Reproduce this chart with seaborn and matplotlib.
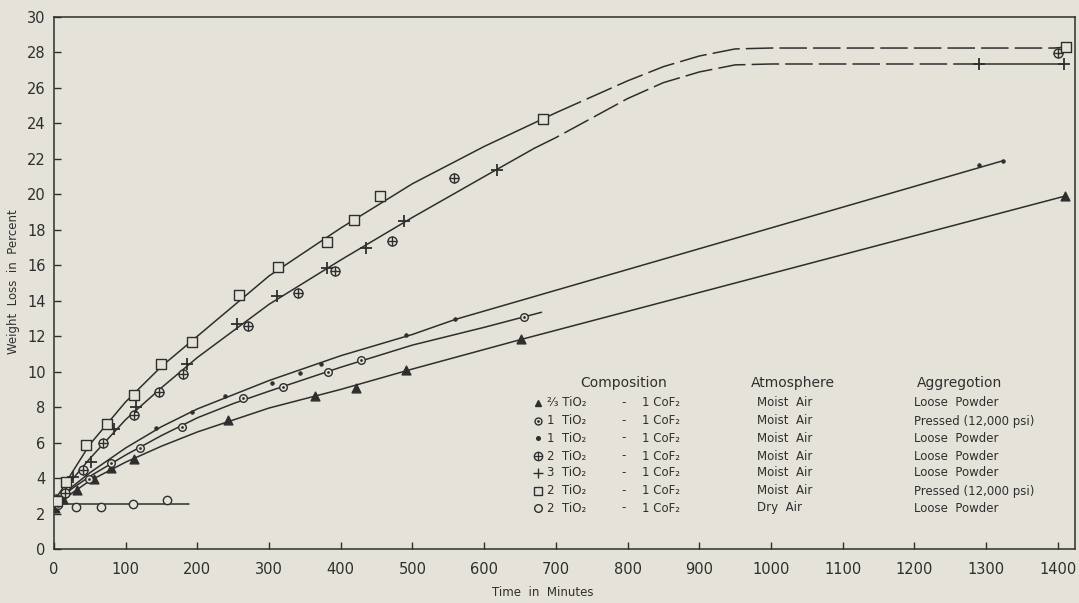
import matplotlib
matplotlib.use("Agg")
import matplotlib.pyplot as plt
import pandas as pd
import seaborn as sns

# ---------------- data ----------------
# measured points
tri_x = [2, 12, 32, 56, 79, 112, 242, 364, 421, 491, 651, 1410]
tri_y = [2.3, 2.8, 3.35, 3.95, 4.55, 5.1, 7.3, 8.65, 9.1, 10.1, 11.85, 19.9]

cdot_x = [5, 49, 80, 120, 178, 264, 320, 382, 428, 656]
cdot_y = [2.5, 3.95, 4.87, 5.68, 6.9, 8.5, 9.12, 10.0, 10.63, 13.1]

dot_x = [5, 142, 193, 238, 304, 343, 373, 491, 559, 1290, 1324]
dot_y = [2.5, 6.81, 7.75, 8.6, 9.35, 9.92, 10.44, 12.06, 12.96, 21.63, 21.9]

cplus_x = [3, 15, 41, 68, 112, 146, 180, 270, 341, 392, 471, 558, 1400]
cplus_y = [2.8, 3.14, 4.46, 5.96, 7.56, 8.88, 9.88, 12.58, 14.43, 15.65, 17.36, 20.9, 27.97]

plus_x = [27, 52, 84, 115, 185, 255, 311, 381, 435, 488, 618, 1290, 1408]
plus_y = [4.08, 4.93, 6.75, 8.0, 10.42, 12.7, 14.24, 15.84, 17.0, 18.5, 21.4, 27.37, 27.37]

sq_x = [4, 17, 45, 74, 111, 149, 193, 258, 312, 381, 418, 454, 682, 1411]
sq_y = [2.7, 3.76, 5.87, 7.05, 8.69, 10.44, 11.7, 14.3, 15.9, 17.3, 18.57, 19.9, 24.27, 28.3]

dry_x = [30, 66, 110, 157]
dry_y = [2.35, 2.35, 2.55, 2.75]

# drawn (faired) curves
sq_solid_x = [0, 10, 25, 50, 100, 150, 200, 300, 400, 500, 600, 700]
sq_solid_y = [2.7, 3.3, 4.3, 5.9, 8.3, 10.3, 12.0, 15.4, 18.1, 20.6, 22.7, 24.6]
sq_dash_x = [700, 750, 800, 850, 900, 950, 1000, 1100, 1200, 1300, 1395]
sq_dash_y = [24.6, 25.5, 26.4, 27.2, 27.8, 28.2, 28.25, 28.25, 28.25, 28.25, 28.25]
sq_end_x = [1395, 1411]
sq_end_y = [28.25, 28.3]

pl_solid_x = [0, 10, 25, 50, 100, 150, 200, 300, 400, 500, 600, 670]
pl_solid_y = [2.4, 3.0, 3.9, 5.1, 7.3, 9.1, 10.8, 13.8, 16.3, 18.7, 21.0, 22.6]
pl_dash_x = [670, 700, 750, 800, 850, 900, 950, 1000, 1290]
pl_dash_y = [22.6, 23.2, 24.3, 25.4, 26.3, 26.9, 27.3, 27.35, 27.35]
pl_end_x = [1290, 1408]
pl_end_y = [27.35, 27.35]

dot_cx = [0, 10, 25, 50, 100, 150, 200, 300, 400, 500, 560, 1324]
dot_cy = [2.4, 2.9, 3.5, 4.3, 5.7, 6.9, 7.9, 9.5, 10.9, 12.1, 12.95, 21.9]

cdot_cx = [0, 10, 25, 50, 100, 150, 200, 250, 300, 400, 500, 600, 680]
cdot_cy = [2.4, 2.9, 3.4, 4.1, 5.3, 6.4, 7.4, 8.2, 8.9, 10.25, 11.5, 12.5, 13.35]

tri_cx = [0, 10, 25, 50, 100, 150, 200, 300, 400, 500, 650, 1410]
tri_cy = [2.2, 2.6, 3.15, 3.85, 4.9, 5.8, 6.6, 7.95, 9.0, 10.15, 11.8, 19.9]

dry_cx = [0, 188]
dry_cy = [2.55, 2.55]

x_ticks = list(range(0, 1401, 100))
y_ticks = list(range(0, 31, 2))

legend_comp = ["²⁄₃ TiO₂", "1  TiO₂", "1  TiO₂", "2  TiO₂", "3  TiO₂", "2  TiO₂", "2  TiO₂"]
legend_atm = ["Moist  Air"] * 6 + ["Dry  Air"]
legend_agg = ["Loose  Powder", "Pressed (12,000 psi)", "Loose  Powder", "Loose  Powder",
              "Loose  Powder", "Pressed (12,000 psi)", "Loose  Powder"]

# ---------------- style ----------------
BG = "#e5e3d9"
INK = "#2e2e2e"
sns.set_theme(style="ticks")
plt.rcParams['font.family'] = ['DejaVu Sans']
plt.rcParams['text.color'] = INK

fig = plt.figure(figsize=(10.79, 6.03), dpi=100, facecolor=BG)
ax = fig.add_axes([54 / 1079, 1 - 549 / 603, (1075 - 54) / 1079, (549 - 17) / 603])
ax.set_facecolor(BG)

def curve(xs, ys, dashed=False):
    d = pd.DataFrame({"x": xs, "y": ys})
    l = sns.lineplot(data=d, x="x", y="y", ax=ax, color=INK, lw=1.1, sort=False,
                     estimator=None, zorder=2)
    if dashed:
        l.lines[-1].set_dashes([18, 4])

curve(sq_solid_x, sq_solid_y)
curve(sq_dash_x, sq_dash_y, dashed=True)
curve(sq_end_x, sq_end_y)
curve(pl_solid_x, pl_solid_y)
curve(pl_dash_x, pl_dash_y, dashed=True)
curve(pl_end_x, pl_end_y)
curve(dot_cx, dot_cy)
curve(cdot_cx, cdot_cy)
curve(tri_cx, tri_cy)
curve(dry_cx, dry_cy)

def pts(xs, ys, marker, s, fc, ec=INK, lw=1.0):
    d = pd.DataFrame({"x": xs, "y": ys})
    sns.scatterplot(data=d, x="x", y="y", ax=ax, marker=marker, s=s, facecolor=fc,
                    edgecolor=ec, linewidth=lw, zorder=3)

pts(tri_x, tri_y, "^", 40, INK)
pts(cdot_x, cdot_y, "o", 30, BG)
pts(cdot_x, cdot_y, ".", 8, INK, lw=0.5)
pts(dot_x, dot_y, "o", 7, INK, lw=0.5)
pts(cplus_x, cplus_y, "o", 42, BG)
pts(cplus_x, cplus_y, "+", 42, INK, lw=1.0)
pts(plus_x, plus_y, "+", 70, INK, lw=1.3)
pts(sq_x, sq_y, "s", 50, BG)
pts(dry_x, dry_y, "o", 36, BG)

ax.set_xlim(0, 1424)
ax.set_ylim(0, 30)
ax.set_xticks(x_ticks)
ax.set_yticks(y_ticks)
ax.tick_params(direction="in", length=5, width=1.0, colors=INK, labelsize=10.5, pad=6)
ax.tick_params(axis="x", pad=9)
for sp in ax.spines.values():
    sp.set_visible(True)
    sp.set_color(INK)
    sp.set_linewidth(1.1)
ax.set_xlabel("")
ax.set_ylabel("")
fig.text(543 / 1079, 1 - 592 / 603, "Time  in  Minutes", ha="center", va="center", fontsize=8.5, color=INK)
fig.text(14 / 1079, 1 - 282 / 603, "Weight  Loss  in  Percent", ha="center", va="center",
         rotation=90, fontsize=8.5, color=INK)

# ---------------- table legend ----------------
def fx(px):
    return (px - 54) / 1021

def fy(py):
    return (549 - py) / 532

T = ax.transAxes
ax.text(fx(624), fy(383), "Composition", transform=T, ha="center", va="center", fontsize=10)
ax.text(fx(793), fy(383), "Atmosphere", transform=T, ha="center", va="center", fontsize=10)
ax.text(fx(960), fy(383), "Aggregotion", transform=T, ha="center", va="center", fontsize=10)

rows_y = [403, 421, 438, 456, 473, 491, 508]
for i, py in enumerate(rows_y):
    y = fy(py)
    ax.text(fx(547), y, legend_comp[i], transform=T, ha="left", va="center", fontsize=8.5)
    ax.text(fx(624), y, "-", transform=T, ha="center", va="center", fontsize=8.5)
    ax.text(fx(642), y, "1 CoF₂", transform=T, ha="left", va="center", fontsize=8.5)
    ax.text(fx(757), y, legend_atm[i], transform=T, ha="left", va="center", fontsize=8.5)
    ax.text(fx(914), y, legend_agg[i], transform=T, ha="left", va="center", fontsize=8.5)

mk = [("^", 5, INK), ("o", 5, BG), ("o", 2.6, INK), ("o", 6, BG), ("+", 7, INK), ("s", 6, BG), ("o", 5.5, BG)]
for (m, ms, fc), py in zip(mk, rows_y):
    ax.plot([fx(538)], [fy(py)], marker=m, ms=ms, mfc=fc, mec=INK, mew=1.0, transform=T, ls="none")
ax.plot([fx(538)], [fy(421)], marker=".", ms=2, color=INK, transform=T, ls="none")
ax.plot([fx(538)], [fy(456)], marker="+", ms=6, color=INK, mew=0.9, transform=T, ls="none")

fig.savefig("out.png", dpi=100, facecolor=BG)
